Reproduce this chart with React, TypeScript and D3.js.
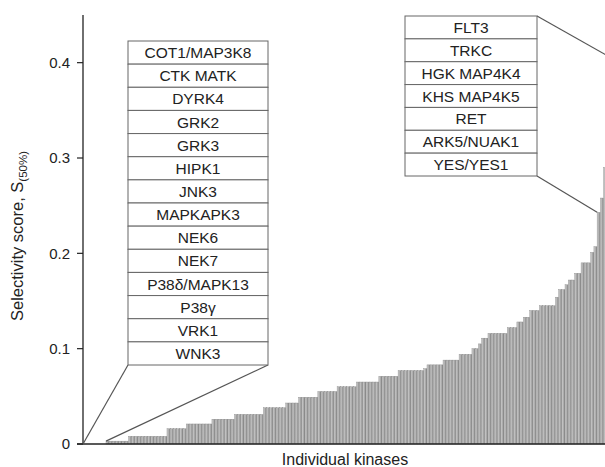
import React from 'react';
import * as d3 from 'd3';

// Kinases with S(50%) = 0, listed in the left call-out
const zeroKinases = [
  'COT1/MAP3K8', 'CTK MATK', 'DYRK4', 'GRK2', 'GRK3', 'HIPK1', 'JNK3',
  'MAPKAPK3', 'NEK6', 'NEK7', 'P38δ/MAPK13', 'P38γ', 'VRK1', 'WNK3',
];

// Most promiscuous kinases, right call-out (top to bottom)
const topKinases = ['FLT3', 'TRKC', 'HGK MAP4K4', 'KHS MAP4K5', 'RET', 'ARK5/NUAK1', 'YES/YES1'];

// Selectivity scores of the remaining kinases, sorted ascending
const kinaseScores = [
  0.003, 0.003, 0.003, 0.003, 0.003, 0.003, 0.003,
  0.008, 0.008, 0.008, 0.008, 0.008, 0.008, 0.008, 0.008, 0.008, 0.008, 0.008, 0.008,
  0.016, 0.016, 0.016, 0.016, 0.016, 0.016,
  0.021, 0.021, 0.021, 0.021, 0.021, 0.021, 0.021, 0.021,
  0.026, 0.026, 0.026, 0.026, 0.026, 0.026, 0.026,
  0.031, 0.031, 0.031, 0.031, 0.031, 0.031, 0.031, 0.031, 0.031,
  0.038, 0.038, 0.038, 0.038, 0.038, 0.038, 0.038,
  0.043, 0.043, 0.043, 0.043,
  0.049, 0.049, 0.049, 0.049, 0.049, 0.049,
  0.055, 0.055, 0.055, 0.055, 0.055, 0.055,
  0.060, 0.060, 0.060, 0.060, 0.060, 0.060,
  0.065, 0.065, 0.065, 0.065, 0.065, 0.065, 0.065,
  0.071, 0.071, 0.071, 0.071, 0.071, 0.071,
  0.077, 0.077, 0.077, 0.077, 0.077, 0.077, 0.077, 0.077,
  0.079,
  0.083, 0.083, 0.083, 0.083, 0.083,
  0.088, 0.088, 0.088, 0.088, 0.088,
  0.094, 0.094, 0.094, 0.094,
  0.100, 0.100,
  0.105,
  0.111, 0.111,
  0.116, 0.116, 0.116, 0.116, 0.116, 0.116,
  0.122, 0.122, 0.122,
  0.128, 0.128,
  0.133, 0.133,
  0.140, 0.140, 0.140,
  0.145, 0.145, 0.145, 0.145, 0.145,
  0.154,
  0.162, 0.162,
  0.167,
  0.172, 0.172,
  0.179, 0.179,
  0.190, 0.190, 0.190,
  0.201,
  0.207,
];

// scores of the top kinases (YES/YES1 ... FLT3), partly outside the frame
const topScores = [0.243, 0.258, 0.29, 0.315, 0.345, 0.37, 0.40];

const yTicks = [0, 0.1, 0.2, 0.3, 0.4];

const W = 605;
const H = 467;
const font = '"Liberation Sans", Arial, Helvetica, sans-serif';

export default function App() {
  const axisX = 83;
  const baseY = 444;
  const barStart = 106;
  const barStep = 3.21;

  const scores = [...kinaseScores, ...topScores];

  const y = d3.scaleLinear().domain([0, 0.45]).range([baseY, 15]);
  const x = d3
    .scaleBand<number>()
    .domain(d3.range(scores.length))
    .range([barStart, barStart + scores.length * barStep])
    .paddingInner(0);

  // call-out boxes
  const leftBox = { x0: 128, x1: 268, y0: 41, y1: 365 };
  const rightBox = { x0: 405, x1: 537, y0: 16, y1: 176 };
  const leftRow = (leftBox.y1 - leftBox.y0) / zeroKinases.length;
  const rightRow = (rightBox.y1 - rightBox.y0) / topKinases.length;

  const firstTop = kinaseScores.length;
  const lastTop = scores.length - 1;

  return (
    <svg
      width={W}
      height={H}
      style={{ position: 'absolute', left: 0, top: 0, display: 'block', background: '#fff' }}
      fontFamily={font}
    >
      <defs>
        {/* shaded bars, light on the left and darker on the right */}
        <linearGradient id="barShade" x1="0" x2="1" y1="0" y2="0">
          <stop offset="0%" stopColor="#cfcfcf" />
          <stop offset="45%" stopColor="#b3b3b3" />
          <stop offset="100%" stopColor="#7c7c7c" />
        </linearGradient>
      </defs>

      {/* bars */}
      <g>
        {scores.map((v, i) => (
          <rect
            key={i}
            x={x(i)}
            y={y(v)}
            width={x.bandwidth()}
            height={baseY - y(v)}
            fill="url(#barShade)"
            stroke="#8a8a8a"
            strokeWidth={0.4}
          />
        ))}
      </g>

      {/* axes */}
      <line x1={axisX} x2={axisX} y1={y(0.45)} y2={baseY} stroke="#222" strokeWidth={1.3} />
      <line x1={axisX - 6} x2={W} y1={baseY} y2={baseY} stroke="#222" strokeWidth={1.3} />
      {yTicks.map((t) => (
        <g key={t}>
          <line x1={axisX - 6} x2={axisX} y1={y(t)} y2={y(t)} stroke="#222" strokeWidth={1.2} />
          <text
            x={axisX - 13}
            y={y(t)}
            dy="0.35em"
            textAnchor="end"
            fontSize={15}
            fill="#222"
          >
            {t === 0 ? '0' : d3.format('.1f')(t)}
          </text>
        </g>
      ))}
      <text
        transform={`translate(23, 236) rotate(-90)`}
        textAnchor="middle"
        fontSize={16.5}
        fill="#222"
      >
        Selectivity score, S
        <tspan fontSize={11.5} dy={4}>(50%)</tspan>
      </text>
      <text x={345} y={baseY + 21} textAnchor="middle" fontSize={16} fill="#222">
        Individual kinases
      </text>

      {/* left call-out */}
      <line x1={leftBox.x0} y1={leftBox.y1} x2={axisX} y2={baseY} stroke="#555" strokeWidth={1.2} />
      <line
        x1={leftBox.x1}
        y1={leftBox.y1}
        x2={x(0)}
        y2={y(kinaseScores[0])}
        stroke="#555"
        strokeWidth={1.2}
      />
      {zeroKinases.map((k, i) => (
        <g key={k}>
          <rect
            x={leftBox.x0}
            y={leftBox.y0 + i * leftRow}
            width={leftBox.x1 - leftBox.x0}
            height={leftRow}
            fill="#fff"
            stroke="#666"
            strokeWidth={1}
          />
          <text
            x={(leftBox.x0 + leftBox.x1) / 2}
            y={leftBox.y0 + (i + 0.5) * leftRow}
            dy="0.36em"
            textAnchor="middle"
            fontSize={15.5}
            fill="#222"
          >
            {k}
          </text>
        </g>
      ))}

      {/* right call-out */}
      <line
        x1={rightBox.x1}
        y1={rightBox.y0}
        x2={(x(lastTop) ?? 0) + x.bandwidth()}
        y2={y(topScores[topScores.length - 1])}
        stroke="#555"
        strokeWidth={1.2}
      />
      <line
        x1={rightBox.x1}
        y1={rightBox.y1}
        x2={x(firstTop)}
        y2={y(topScores[0])}
        stroke="#555"
        strokeWidth={1.2}
      />
      {topKinases.map((k, i) => (
        <g key={k}>
          <rect
            x={rightBox.x0}
            y={rightBox.y0 + i * rightRow}
            width={rightBox.x1 - rightBox.x0}
            height={rightRow}
            fill="#fff"
            stroke="#666"
            strokeWidth={1}
          />
          <text
            x={(rightBox.x0 + rightBox.x1) / 2}
            y={rightBox.y0 + (i + 0.5) * rightRow}
            dy="0.36em"
            textAnchor="middle"
            fontSize={15.5}
            fill="#222"
          >
            {k}
          </text>
        </g>
      ))}
    </svg>
  );
}
